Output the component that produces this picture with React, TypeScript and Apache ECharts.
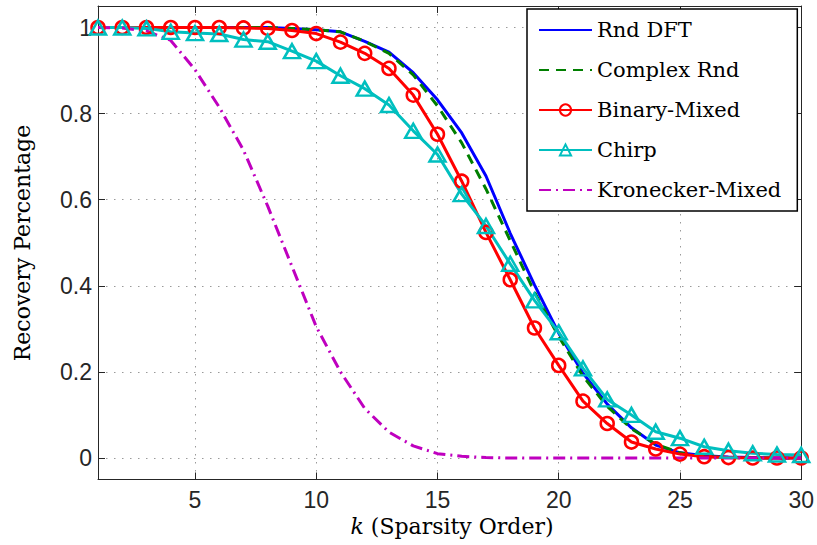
import React, { useEffect, useRef } from "react";
import * as echarts from "echarts";

const kValues = [1, 2, 3, 4, 5, 6, 7, 8, 9, 10, 11, 12, 13, 14, 15, 16, 17, 18, 19, 20, 21, 22, 23, 24, 25, 26, 27, 28, 29, 30];

const rndDFT = [1, 1, 1, 1, 1, 1, 1, 1, 0.998, 0.995, 0.99, 0.968, 0.943, 0.895, 0.832, 0.755, 0.655, 0.522, 0.402, 0.29, 0.197, 0.125, 0.07, 0.03, 0.012, 0.005, 0.002, 0.001, 0, 0];
const complexRnd = [1, 1, 1, 1, 1, 1, 1, 1, 0.998, 0.995, 0.99, 0.968, 0.94, 0.89, 0.818, 0.732, 0.625, 0.505, 0.385, 0.282, 0.19, 0.12, 0.068, 0.032, 0.012, 0.004, 0.001, 0, 0, 0];
const binaryMixed = [1, 1, 1, 1, 1, 1, 0.999, 0.998, 0.993, 0.986, 0.966, 0.94, 0.905, 0.843, 0.752, 0.643, 0.524, 0.414, 0.302, 0.215, 0.132, 0.08, 0.037, 0.021, 0.009, 0.003, 0.001, 0, 0, 0];
const chirp = [1, 1, 0.998, 0.99, 0.987, 0.985, 0.972, 0.967, 0.945, 0.922, 0.888, 0.858, 0.82, 0.76, 0.705, 0.613, 0.539, 0.451, 0.366, 0.292, 0.208, 0.136, 0.1, 0.061, 0.046, 0.026, 0.017, 0.011, 0.008, 0.007];
const kroneckerMixed = [1, 0.999, 0.992, 0.97, 0.902, 0.815, 0.715, 0.585, 0.445, 0.305, 0.2, 0.115, 0.06, 0.028, 0.01, 0.004, 0.001, 0, 0, 0, 0, 0, 0, 0, 0, 0, 0, 0, 0, 0];

const xTicks = [5, 10, 15, 20, 25, 30];
const yTicks = [0, 0.2, 0.4, 0.6, 0.8, 1];

const seriesNames = ["Rnd DFT", "Complex Rnd", "Binary-Mixed", "Chirp", "Kronecker-Mixed"];

const pairs = (vals: number[]) => kValues.map((k, i) => [k, vals[i]]);

const AXIS_COLOR = "#262626";
const SANS = "Liberation Sans";
const SERIF = "DejaVu Serif";

export default function App() {
  const ref = useRef<HTMLDivElement>(null);

  useEffect(() => {
    if (!ref.current) return;
    const chart = echarts.init(ref.current, null, { renderer: "svg" });

    const tickCommon = { show: true, inside: true, length: 7, lineStyle: { color: AXIS_COLOR, width: 1 } };
    const lineCommon = { show: true, onZero: false, lineStyle: { color: AXIS_COLOR, width: 1 } };
    const splitCommon = { show: true, lineStyle: { color: "#9a9a9a", width: 1, type: [1.5, 6.5] as any } };

    const option: any = {
      animation: false,
      backgroundColor: "#ffffff",
      grid: { left: 98, right: 15.5, top: 6, bottom: 65.5, containLabel: false },
      xAxis: [
        {
          type: "value",
          position: "bottom",
          min: 1,
          max: 30,
          axisLine: lineCommon,
          axisTick: { ...tickCommon, customValues: xTicks },
          axisLabel: { customValues: xTicks, fontSize: 23, fontFamily: SANS, color: AXIS_COLOR, margin: 9 },
          splitLine: splitCommon,
        },
        {
          type: "value",
          position: "top",
          min: 1,
          max: 30,
          axisLine: lineCommon,
          axisTick: { ...tickCommon, customValues: xTicks },
          axisLabel: { show: false, customValues: xTicks },
          splitLine: { show: false },
        },
      ],
      yAxis: [
        {
          type: "value",
          position: "left",
          min: -0.05,
          max: 1.05,
          axisLine: lineCommon,
          axisTick: { ...tickCommon, customValues: yTicks },
          axisLabel: { customValues: yTicks, fontSize: 23, fontFamily: SANS, color: AXIS_COLOR, margin: 6 },
          splitLine: splitCommon,
        },
        {
          type: "value",
          position: "right",
          min: -0.05,
          max: 1.05,
          axisLine: lineCommon,
          axisTick: { ...tickCommon, customValues: yTicks },
          axisLabel: { show: false, customValues: yTicks },
          splitLine: { show: false },
        },
      ],
      legend: {
        show: true,
        data: seriesNames,
        orient: "vertical",
        left: 527,
        top: 9,
        padding: [9, 16, 9, 11],
        itemGap: 16,
        itemWidth: 53,
        itemHeight: 14,
        backgroundColor: "#ffffff",
        borderColor: "#000000",
        borderWidth: 1.5,
        borderRadius: 0,
        textStyle: { fontFamily: SERIF, fontSize: 21, color: "#000000", lineHeight: 24 },
        selectedMode: false,
      },
      graphic: [
        {
          type: "text",
          x: 22.5,
          y: 243,
          rotation: Math.PI / 2,
          style: {
            text: "Recovery Percentage",
            fontFamily: SERIF,
            fontSize: 22,
            fill: "#000000",
            align: "center",
            verticalAlign: "middle",
          },
        },
        {
          type: "text",
          x: 452,
          y: 526,
          style: {
            text: "{i|k} (Sparsity Order)",
            fontFamily: SERIF,
            fontSize: 22,
            fill: "#000000",
            align: "center",
            verticalAlign: "middle",
            rich: {
              i: { fontStyle: "italic", fontFamily: SERIF, fontSize: 22, fill: "#000000" },
            },
          },
        },
      ],
      series: [
        {
          name: seriesNames[0],
          type: "line",
          data: pairs(rndDFT),
          symbol: "none",
          lineStyle: { color: "#0000ff", width: 3, type: "solid" },
          itemStyle: { color: "#0000ff", opacity: 0 },
          z: 2,
        },
        {
          name: seriesNames[1],
          type: "line",
          data: pairs(complexRnd),
          symbol: "none",
          lineStyle: { color: "#007f00", width: 3, type: [10, 7] },
          itemStyle: { color: "#007f00", opacity: 0 },
          z: 2,
        },
        {
          name: seriesNames[2],
          type: "line",
          data: pairs(binaryMixed),
          symbol: "circle",
          symbolSize: 13,
          showSymbol: true,
          lineStyle: { color: "#ff0000", width: 3, type: "solid" },
          itemStyle: { color: "rgba(0,0,0,0)", borderColor: "#ff0000", borderWidth: 2.5 },
          z: 2,
        },
        {
          name: seriesNames[3],
          type: "line",
          data: pairs(chirp),
          symbol: "triangle",
          symbolSize: [16, 14],
          showSymbol: true,
          lineStyle: { color: "#00bfbf", width: 3, type: "solid" },
          itemStyle: { color: "rgba(0,0,0,0)", borderColor: "#00bfbf", borderWidth: 2.5 },
          z: 2,
        },
        {
          name: seriesNames[4],
          type: "line",
          data: pairs(kroneckerMixed),
          symbol: "none",
          lineStyle: { color: "#bf00bf", width: 3, type: [12, 5, 2, 5] },
          itemStyle: { color: "#bf00bf", opacity: 0 },
          z: 2,
        },
      ],
    };

    chart.setOption(option);
    return () => chart.dispose();
  }, []);

  return (
    <div
      ref={ref}
      style={{ position: "fixed", left: 0, top: 0, width: 817, height: 545, background: "#fff" }}
    />
  );
}
